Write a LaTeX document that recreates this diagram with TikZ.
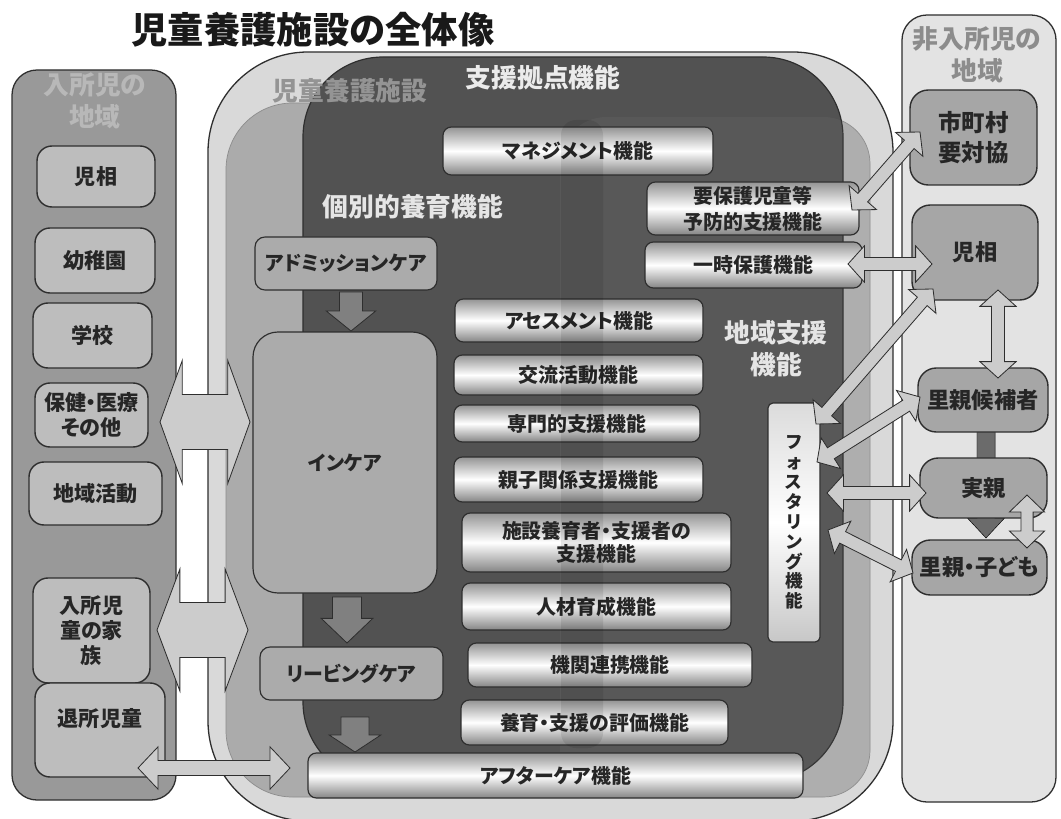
\documentclass[tikz,border=0pt]{standalone}
\usepackage{fontspec}
\setmainfont{Noto Sans CJK JP}[RawFeature=+palt]
\usetikzlibrary{calc}
\definecolor{leftpanel}{gray}{0.60}
\definecolor{leftbox}{gray}{0.74}
\definecolor{rightpanel}{gray}{0.89}
\definecolor{rightbox}{gray}{0.65}
\definecolor{outerfac}{gray}{0.85}
\definecolor{innerfac}{gray}{0.67}
\definecolor{darkfac}{gray}{0.32}
\definecolor{carebox}{gray}{0.67}
\definecolor{edgec}{gray}{0.18}
\definecolor{lightarrow}{gray}{0.80}
\tikzset{
 fs/.style 2 args={font=\fontsize{#1}{#2}\selectfont\bfseries},
 panel/.style={draw=edgec, line width=1.1pt, rounded corners=0.75cm},
 lbox/.style={draw=edgec, line width=1.2pt, fill=leftbox, rounded corners=0.45cm, inner sep=0pt, align=center, text=black!85, fs={18}{21}},
 rbox/.style={draw=edgec, line width=1.2pt, fill=rightbox, rounded corners=0.55cm, inner sep=0pt, align=center, text=black!85, fs={19}{24}},
 funcbox/.style={draw=edgec, line width=1pt, rounded corners=0.25cm, top color=black!42, bottom color=black!48, middle color=white, inner sep=0pt, align=center, text=black!85, fs={17}{20}},
 cbox/.style={draw=edgec, line width=1pt, fill=carebox, rounded corners=0.3cm, inner sep=0pt, align=center, text=black!85, fs={17}{20}},
 ttl/.style={align=center, fs={22}{27}},
 lightarr/.style={draw=edgec, line width=0.7pt, fill=lightarrow, line join=miter},
 downarr/.style={draw=edgec, line width=0.7pt, fill=black!50},
 darkarr/.style={fill=black!58},
}
\newcommand\mybox[7]{\node[#1, minimum width={(#4-#2)*0.03cm}, minimum height={(#5-#3)*0.03cm}] (#6) at ({(#2+#4)/2},{(#3+#5)/2}) {#7};}
\newcommand\dblarrow[6]{\draw[#1] (#2) -- ($(#2)!#6!(#3)!#5!90:(#3)$) -- ($(#2)!#6!(#3)!#4!90:(#3)$) -- ($(#3)!#6!(#2)!#4!-90:(#2)$) -- ($(#3)!#6!(#2)!#5!-90:(#2)$) -- (#3) -- ($(#3)!#6!(#2)!#5!90:(#2)$) -- ($(#3)!#6!(#2)!#4!90:(#2)$) -- ($(#2)!#6!(#3)!#4!-90:(#3)$) -- ($(#2)!#6!(#3)!#5!-90:(#3)$) -- cycle;}
\newcommand\sglarrow[6]{\draw[#1] ($(#2)!#4!90:(#3)$) -- ($(#3)!#6!(#2)!#4!-90:(#2)$) -- ($(#3)!#6!(#2)!#5!-90:(#2)$) -- (#3) -- ($(#3)!#6!(#2)!#5!90:(#2)$) -- ($(#3)!#6!(#2)!#4!90:(#2)$) -- ($(#2)!#4!-90:(#3)$) -- cycle;}
\begin{document}
\begin{tikzpicture}[x=0.03cm,y=-0.03cm]
\useasboundingbox (0,0) rectangle (1061,819);
\fill[white] (0,0) rectangle (1061,819);

\node[fs={31}{34}, text=black!90] (title) at (313,30) {児童養護施設の全体像};

% left region
\draw[panel, fill=leftpanel] (12,70) rectangle (176,800);
\node[ttl, text=black!28] (ltitle) at (95,101) {入所児の\\地域};
\mybox{lbox}{37}{146}{155}{207}{ljiso}{児相}
\mybox{lbox}{35}{228}{155}{293}{yochien}{幼稚園}
\mybox{lbox}{33}{303}{152}{368}{gakko}{学校}
\mybox{lbox}{35}{383}{148}{447}{hoken}{保健・医療\\その他}
\mybox{lbox}{29}{462}{162}{525}{chiiki}{地域活動}
\mybox{lbox}{33}{578}{150}{683}{kazoku}{入所児\\童の家\\族}
\mybox{lbox}{35}{683}{165}{777}{taisho}{退所児童\\\mbox{}}

% facility
\draw[draw=edgec, line width=1.1pt, fill=outerfac, rounded corners=3cm] (208,52) rectangle (893,821);
\draw[draw=black!45, line width=0.6pt, fill=innerfac, rounded corners=2cm] (226,103) rectangle (603,797);
\draw[draw=black!45, line width=0.6pt, fill=innerfac, rounded corners=1.4cm] (560,117) rectangle (870,797);
\draw[draw=edgec, line width=1pt, fill=darkfac, rounded corners=2.4cm] (303,57) rectangle (843,782);
\fill[white, opacity=0.04, rounded corners=1.4cm] (560,117) rectangle (870,797);

\node[ttl, text=black!42] (factitle) at (350,91) {児童養護施設};
\node[ttl, text=white!92!black] (sientitle) at (543,78) {支援拠点機能};
\node[ttl, text=white!90!black] (kobetsu) at (413,207) {個別的養育機能};
\node[ttl, text=white!90!black] (chiikititle) at (776,349) {地域支援\\機能};

\mybox{cbox}{255}{237}{437}{290}{adm}{アドミッションケア}
\mybox{cbox, rounded corners=0.75cm}{253}{332}{437}{593}{incare}{インケア}
\mybox{cbox}{260}{647}{443}{700}{leaving}{リービングケア}

\mybox{funcbox}{443}{127}{713}{175}{mgmt}{マネジメント機能}
\mybox{funcbox, fs={17}{22}}{647}{182}{859}{235}{yoho}{要保護児童等\\予防的支援機能}
\mybox{funcbox}{645}{242}{862}{288}{ichiji}{一時保護機能}
\mybox{funcbox}{455}{299}{703}{342}{assess}{アセスメント機能}
\mybox{funcbox}{454}{355}{703}{395}{koryu}{交流活動機能}
\mybox{funcbox}{454}{405}{700}{442}{senmon}{専門的支援機能}
\mybox{funcbox}{454}{457}{703}{502}{oyako}{親子関係支援機能}
\mybox{funcbox}{462}{513}{731}{572}{shisetsu}{施設養育者・支援者の\\支援機能}
\mybox{funcbox}{462}{583}{731}{630}{jinzai}{人材育成機能}
\mybox{funcbox}{468}{643}{752}{687}{kikan}{機関連携機能}
\mybox{funcbox}{461}{700}{728}{745}{hyoka}{養育・支援の評価機能}
\mybox{funcbox}{308}{753}{803}{798}{after}{アフターケア機能}
\mybox{funcbox, top color=black!14, bottom color=black!22, middle color=white, rounded corners=0.15cm, fs={15}{17}}{768}{403}{820}{642}{fos}{フ\\ォ\\ス\\タ\\リ\\ン\\グ\\機\\能}

\fill[black, opacity=0.09, rounded corners=0.45cm] (561,120) rectangle (603,748);

% right region
\draw[panel, fill=rightpanel] (902,15) rectangle (1056,802);
\node[ttl, text=black!45] (rtitle) at (977,55) {非入所児の\\地域};

\coordinate (k1a) at (986,430); \coordinate (k1b) at (986,482);
\coordinate (k2a) at (986,505); \coordinate (k2b) at (986,538);
\sglarrow{darkarr}{k1a}{k1b}{7.7pt}{15pt}{17pt}
\sglarrow{darkarr}{k2a}{k2b}{7.5pt}{15.8pt}{17pt}

\mybox{rbox, fs={20}{25}}{910}{90}{1037}{185}{shicho}{市町村\\要対協}
\mybox{rbox}{912}{205}{1038}{300}{rjiso}{児相}
\mybox{rbox}{918}{368}{1048}{432}{cand}{里親候補者}
\mybox{rbox}{920}{458}{1047}{518}{jitsu}{実親}
\mybox{rbox}{912}{540}{1047}{595}{satooya}{里親・子ども}

% left arrows
\coordinate (la1) at (160,422); \coordinate (lb1) at (250,422);
\coordinate (la2) at (157,630); \coordinate (lb2) at (248,630);
\coordinate (la3) at (138,768); \coordinate (lb3) at (290,768);
\dblarrow{lightarr}{la1}{lb1}{23.5pt}{52.5pt}{19pt}
\dblarrow{lightarr}{la2}{lb2}{23.5pt}{52pt}{19.5pt}
\dblarrow{lightarr}{la3}{lb3}{6.4pt}{18pt}{17pt}

% down arrows
\coordinate (d1a) at (351,292); \coordinate (d1b) at (351,331);
\coordinate (d2a) at (347,597); \coordinate (d2b) at (347,643);
\coordinate (d3a) at (355,717); \coordinate (d3b) at (355,752);
\sglarrow{downarr}{d1a}{d1b}{9.8pt}{21pt}{17pt}
\sglarrow{downarr}{d2a}{d2b}{12.4pt}{22pt}{21pt}
\sglarrow{downarr}{d3a}{d3b}{12pt}{22pt}{14.5pt}

% right arrows
\coordinate (r1a) at (852,210); \coordinate (r1b) at (920,132);
\coordinate (r2a) at (848,264); \coordinate (r2b) at (932,264);
\coordinate (r3a) at (816,424); \coordinate (r3b) at (933,289);
\coordinate (r4a) at (817,462); \coordinate (r4b) at (920,397);
\coordinate (r5a) at (827,493); \coordinate (r5b) at (926,493);
\coordinate (r6a) at (828,530); \coordinate (r6b) at (913,573);
\coordinate (r7a) at (998,290); \coordinate (r7b) at (998,378);
\coordinate (r8a) at (1027,495); \coordinate (r8b) at (1027,548);
\dblarrow{lightarr}{r1a}{r1b}{5.5pt}{15.5pt}{14pt}
\dblarrow{lightarr}{r2a}{r2b}{5.5pt}{15.5pt}{14pt}
\dblarrow{lightarr}{r3a}{r3b}{5.5pt}{15.5pt}{14pt}
\dblarrow{lightarr}{r4a}{r4b}{5.5pt}{15.5pt}{14pt}
\dblarrow{lightarr}{r5a}{r5b}{5.5pt}{15.5pt}{14pt}
\dblarrow{lightarr}{r6a}{r6b}{5.5pt}{15.5pt}{14pt}
\dblarrow{lightarr}{r7a}{r7b}{5.5pt}{15.5pt}{14pt}
\dblarrow{lightarr}{r8a}{r8b}{5.2pt}{15pt}{14.5pt}
\end{tikzpicture}
\end{document}
